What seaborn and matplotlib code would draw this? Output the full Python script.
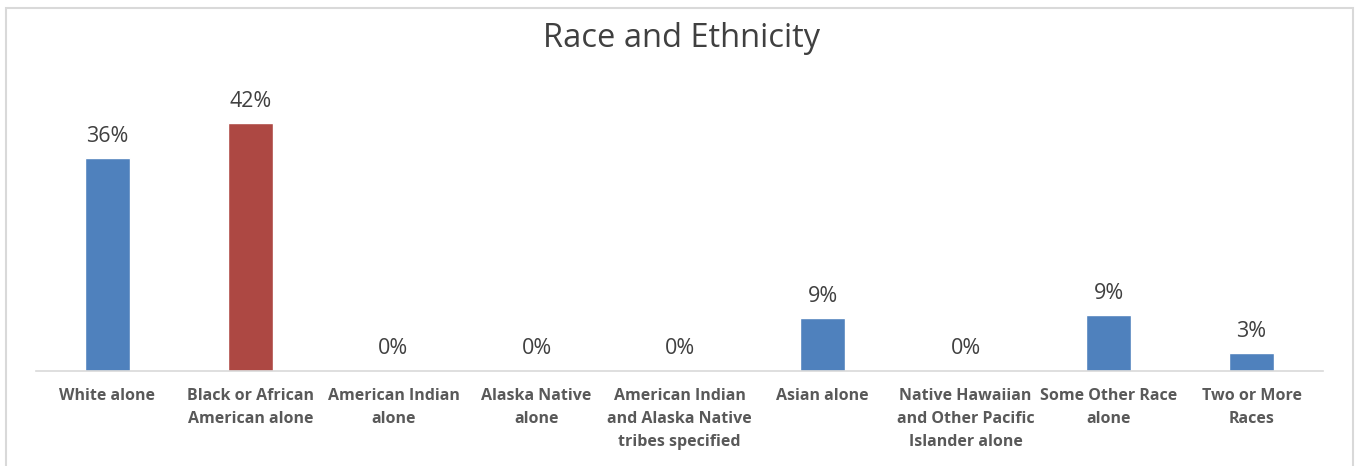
import matplotlib
matplotlib.use("Agg")
import matplotlib.pyplot as plt
from matplotlib.patches import Rectangle
import seaborn as sns
import pandas as pd

categories = [
    "White alone",
    "Black or African\nAmerican alone",
    "American Indian\nalone",
    "Alaska Native\nalone",
    "American Indian\nand Alaska Native\ntribes specified",
    "Asian alone",
    "Native Hawaiian\nand Other Pacific\nIslander alone",
    "Some Other Race\nalone",
    "Two or More\nRaces",
]
shares = [0.360, 0.420, 0.002, 0.001, 0.002, 0.089, 0.002, 0.094, 0.031]
bar_colors = ["#4F81BD", "#AD4843", "#4F81BD", "#4F81BD", "#4F81BD",
              "#4F81BD", "#4F81BD", "#4F81BD", "#4F81BD"]
title = "Race and Ethnicity"

sns.set_theme(style="white")
plt.rcParams["font.family"] = ["Open Sans", "DejaVu Sans"]

df = pd.DataFrame({"category": categories, "share": shares})

fig = plt.figure(figsize=(13.57, 4.66), dpi=100)
ax = fig.add_axes([0.0265, 0.2039, 0.9485, 0.5708])

sns.barplot(data=df, x="category", y="share", hue="category",
            palette=bar_colors, width=0.315, legend=False, ax=ax,
            saturation=1.0)

ax.set_ylim(0, 0.45)
ax.set_xlim(-0.5, len(categories) - 0.5)

for container in ax.containers:
    ax.bar_label(container, labels=[f"{v:.0%}" for v in container.datavalues],
                 padding=8, fontsize=15.5, color="#404040")

for side in ["top", "right", "left"]:
    ax.spines[side].set_visible(False)
ax.spines["bottom"].set_color("#d9d9d9")
ax.spines["bottom"].set_linewidth(1.2)
ax.set_yticks([])
ax.set_xlabel("")
ax.set_ylabel("")
ax.tick_params(axis="x", length=0, pad=12)
for lbl in ax.get_xticklabels():
    lbl.set_fontweight("bold")
    lbl.set_fontsize(11.5)
    lbl.set_color("#595959")
    lbl.set_linespacing(1.6)
    lbl.set_verticalalignment("top")

fig.text(0.5026, 0.918, title, ha="center", va="center",
         fontsize=23.5, color="#404040")

# outer chart frame
fig.patches.append(Rectangle((6 / 1357, -0.05), 1347 / 1357, 1.05 - 8 / 466,
                             transform=fig.transFigure, fill=False,
                             edgecolor="#d9d9d9", linewidth=1.5))

fig.savefig("out.png", dpi=100, facecolor="white")
